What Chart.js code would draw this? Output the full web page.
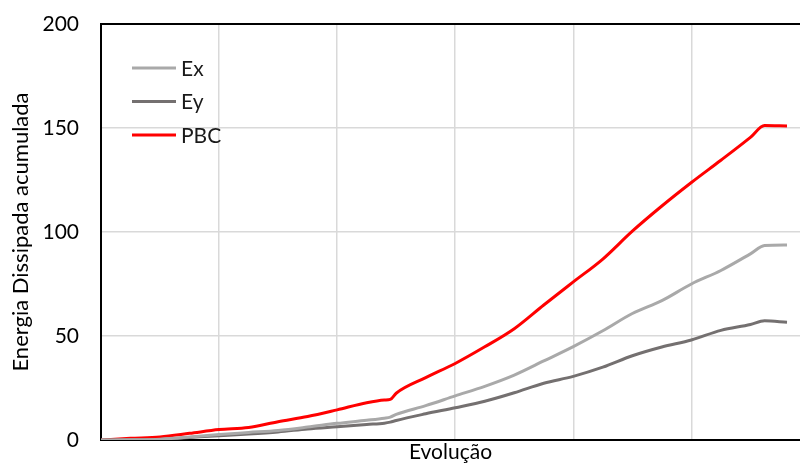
<!DOCTYPE html>
<html>
<head>
<meta charset="utf-8">
<script src="https://cdn.jsdelivr.net/npm/chart.js@4"></script>
<style>
  html, body { margin: 0; padding: 0; background: #fff; overflow: hidden; }
  #wrap { width: 800px; height: 464px; }
</style>
</head>
<body>
<div id="wrap"><canvas id="chart"></canvas></div>
<script>
// Evolution steps (one unit = one vertical gridline)
const steps = [0, 0.25, 0.5, 0.75, 1.0, 1.25, 1.5, 1.75, 2.0, 2.25, 2.4, 2.45, 2.5, 2.75,
  3.0, 3.25, 3.5, 3.75, 4.0, 4.25, 4.5, 4.75, 5.0, 5.25, 5.5, 5.62, 5.81];

// Cumulative dissipated energy
const exValues = [0, 0.1, 0.4, 1.4, 2.6, 3.6, 4.6, 6.2, 8.0, 9.5, 10.5, 11.0, 12.3, 16.5,
  21.2, 25.8, 31.2, 38.0, 44.9, 52.5, 60.8, 67.0, 75.0, 81.5, 89.5, 93.5, 93.8];
const eyValues = [0, 0.1, 0.3, 1.2, 2.1, 2.9, 3.9, 5.3, 6.4, 7.5, 8.1, 8.6, 9.4, 12.6,
  15.5, 18.6, 22.7, 27.3, 30.6, 35.0, 40.5, 44.7, 48.1, 52.7, 55.5, 57.3, 56.6];
const pbcValues = [0, 0.8, 1.5, 3.2, 5.0, 6.0, 8.8, 11.3, 14.5, 17.9, 19.2, 19.5, 22.5, 30.0,
  36.8, 44.8, 53.5, 64.9, 76.0, 87.0, 100.4, 112.5, 123.8, 134.5, 145.5, 151.2, 151.0];

const seriesNames = ['Ex', 'Ey', 'PBC'];
const seriesColors = ['#a9a9a9', '#747070', '#ff0000'];
const yTicks = [0, 50, 100, 150, 200];

const FONT = 'Lato, "Open Sans", sans-serif';

function toPoints(values) {
  return values.map((v, i) => ({ x: steps[i], y: v }));
}

// Legend drawn inside the plot, upper left
const insideLegend = {
  id: 'insideLegend',
  afterDraw(chart) {
    const ctx = chart.ctx;
    ctx.save();
    ctx.font = '21px ' + FONT;
    ctx.textBaseline = 'middle';
    chart.data.datasets.forEach((ds, i) => {
      const y = 68 + i * 33.5;
      ctx.strokeStyle = ds.borderColor;
      ctx.lineWidth = 3;
      ctx.beginPath();
      ctx.moveTo(132, y);
      ctx.lineTo(176, y);
      ctx.stroke();
      ctx.fillStyle = '#1a1a1a';
      ctx.fillText(ds.label, 181, y + 1);
    });
    ctx.restore();
  }
};

const datasets = [exValues, eyValues, pbcValues].map((vals, i) => ({
  label: seriesNames[i],
  data: toPoints(vals),
  borderColor: seriesColors[i],
  borderWidth: 3,
  pointRadius: 0,
  cubicInterpolationMode: 'monotone',
  fill: false
}));

new Chart(document.getElementById('chart'), {
  type: 'line',
  data: { datasets: datasets },
  options: {
    responsive: true,
    maintainAspectRatio: false,
    animation: false,
    layout: { padding: { top: 24, right: 0, left: 0, bottom: 0 } },
    plugins: {
      legend: { display: false },
      tooltip: { enabled: false }
    },
    scales: {
      x: {
        type: 'linear',
        min: 0,
        max: 5.92,
        ticks: { display: false, stepSize: 1, includeBounds: false },
        grid: { color: '#d9d9d9', lineWidth: 1.5, drawTicks: false },
        border: { color: '#000', width: 2 },
        afterFit(scale) { scale.height = 24; },
        title: {
          display: true,
          text: 'Evolução',
          color: '#000',
          font: { family: FONT, size: 21, lineHeight: 1.15 },
          padding: { top: 0, bottom: 0 }
        }
      },
      y: {
        min: 0,
        max: 200,
        afterBuildTicks(scale) {
          scale.ticks = yTicks.map(v => ({ value: v }));
        },
        afterFit(scale) {
          scale.width = 101;
          scale.paddingTop = 0;
          scale.paddingBottom = 0;
        },
        ticks: { color: '#000', padding: 22, font: { family: FONT, size: 21 } },
        grid: {
          drawTicks: false,
          color: ctx => (ctx.tick && ctx.tick.value === 200 ? '#000' : '#d9d9d9'),
          lineWidth: ctx => (ctx.tick && ctx.tick.value === 200 ? 2 : 1.5)
        },
        border: { color: '#000', width: 2 },
        title: {
          display: true,
          text: 'Energia Dissipada acumulada',
          color: '#000',
          font: { family: FONT, size: 22 },
          padding: { top: 8, bottom: 0 }
        }
      }
    }
  },
  plugins: [insideLegend]
});
</script>
</body>
</html>
